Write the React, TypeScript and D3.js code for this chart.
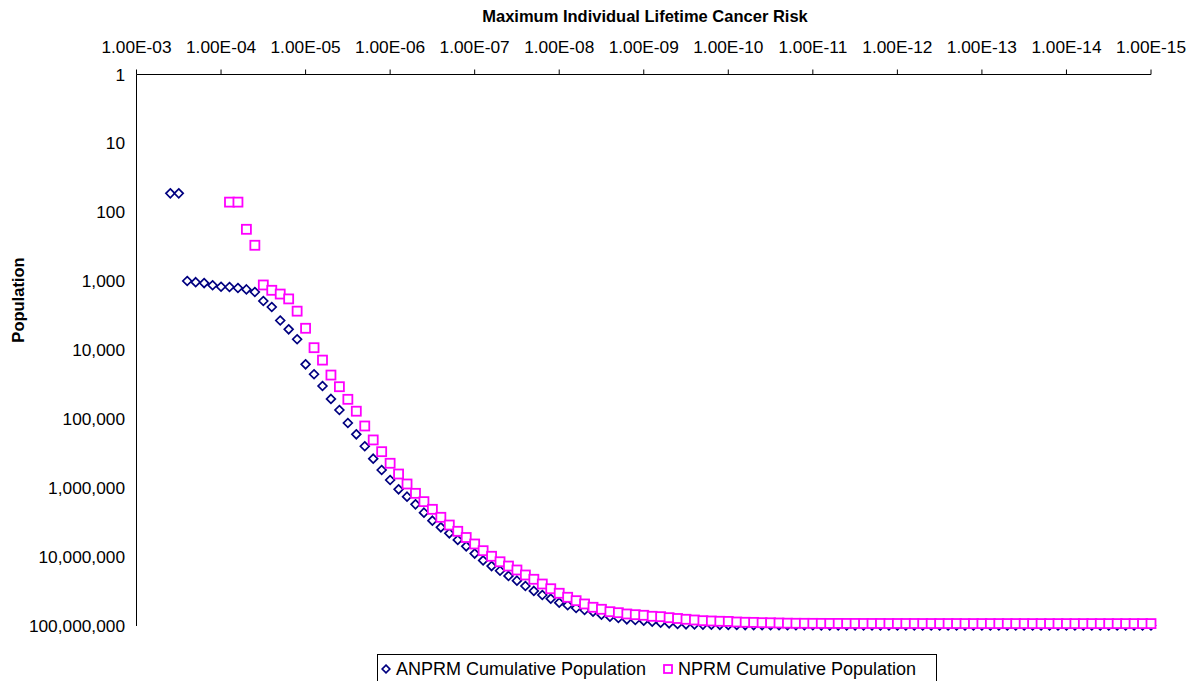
import React from "react";
import * as d3 from "d3";

// Risk levels (log10 of maximum individual lifetime cancer risk), 0.1-decade bins
const riskExp: number[] = [
  -3.4, -3.5, -3.6, -3.7, -3.8, -3.9,
  -4.0, -4.1, -4.2, -4.3, -4.4, -4.5, -4.6, -4.7, -4.8, -4.9,
  -5.0, -5.1, -5.2, -5.3, -5.4, -5.5, -5.6, -5.7, -5.8, -5.9,
  -6.0, -6.1, -6.2, -6.3, -6.4, -6.5, -6.6, -6.7, -6.8, -6.9,
  -7.0, -7.1, -7.2, -7.3, -7.4, -7.5, -7.6, -7.7, -7.8, -7.9,
  -8.0, -8.1, -8.2, -8.3, -8.4, -8.5, -8.6, -8.7, -8.8, -8.9,
  -9.0, -9.1, -9.2, -9.3, -9.4, -9.5, -9.6, -9.7, -9.8, -9.9,
  -10.0, -10.1, -10.2, -10.3, -10.4, -10.5, -10.6, -10.7, -10.8, -10.9,
  -11.0, -11.1, -11.2, -11.3, -11.4, -11.5, -11.6, -11.7, -11.8, -11.9,
  -12.0, -12.1, -12.2, -12.3, -12.4, -12.5, -12.6, -12.7, -12.8, -12.9,
  -13.0, -13.1, -13.2, -13.3, -13.4, -13.5, -13.6, -13.7, -13.8, -13.9,
  -14.0, -14.1, -14.2, -14.3, -14.4, -14.5, -14.6, -14.7, -14.8, -14.9,
  -15.0,
];

// ANPRM cumulative population at each risk level
const anprmPop: number[] = [
  53, 53, 990, 1030, 1060, 1140,
  1200, 1210, 1250, 1310, 1430, 1930, 2360, 3700, 4970, 6930,
  16000, 22300, 33000, 50900, 73600, 113500, 165600, 247000, 374000, 546000,
  762000, 1040000, 1330000, 1720000, 2270000, 2970000, 3700000, 4520000, 5650000, 6980000,
  8900000, 11200000, 13500000, 15800000, 18800000, 22000000, 26300000, 31000000, 35500000, 40200000,
  45900000, 50000000, 54800000, 58600000, 62000000, 68500000, 73200000, 76500000, 79900000, 81800000,
  83700000, 86600000, 89500000, 91300000, 93500000, 94400000, 95000000, 95400000, 95800000, 96100000,
  96400000, 96600000, 96800000, 97000000, 97100000, 97200000, 97300000, 97400000, 97500000, 97600000,
  97600000, 97700000, 97700000, 97800000, 97800000, 97800000, 97900000, 97900000, 97900000, 97900000,
  98000000, 98000000, 98000000, 98000000, 98000000, 98000000, 98000000, 98000000, 98100000, 98100000,
  98100000, 98100000, 98100000, 98100000, 98100000, 98100000, 98100000, 98100000, 98100000, 98100000,
  98200000, 98200000, 98200000, 98200000, 98200000, 98200000, 98200000, 98200000, 98200000, 98200000,
  98200000,
];

// NPRM cumulative population at each risk level (no values above 1E-04)
const nprmPop: (number | null)[] = [
  null, null, null, null, null, null,
  null, 71, 71, 176, 300, 1130, 1350, 1530, 1800, 2710,
  4800, 9180, 13900, 22900, 33800, 51500, 76600, 125500, 200000, 296000,
  436000, 624000, 871000, 1190000, 1570000, 2030000, 2650000, 3430000, 4230000, 5200000,
  6460000, 8080000, 9740000, 11700000, 13500000, 15400000, 18200000, 21000000, 24600000, 28800000,
  33500000, 38300000, 42900000, 47900000, 53500000, 57200000, 62000000, 64100000, 66900000, 68500000,
  69900000, 72300000, 73200000, 75700000, 77800000, 79900000, 81800000, 83700000, 84600000, 85400000,
  85800000, 87500000, 88300000, 88600000, 89500000, 89800000, 90400000, 91000000, 91300000, 91400000,
  91500000, 91600000, 91700000, 91700000, 91800000, 91800000, 91900000, 91900000, 91900000, 92000000,
  92000000, 92000000, 92000000, 92100000, 92100000, 92100000, 92100000, 92100000, 92200000, 92200000,
  92200000, 92200000, 92200000, 92200000, 92200000, 92200000, 92300000, 92300000, 92300000, 92300000,
  92300000, 92300000, 92300000, 92300000, 92300000, 92300000, 92300000, 92300000, 92300000, 92300000,
  92300000,
];

const xTickLabels: string[] = [
  "1.00E-03", "1.00E-04", "1.00E-05", "1.00E-06", "1.00E-07", "1.00E-08", "1.00E-09",
  "1.00E-10", "1.00E-11", "1.00E-12", "1.00E-13", "1.00E-14", "1.00E-15",
];
const xTickValues: number[] = [1e-3, 1e-4, 1e-5, 1e-6, 1e-7, 1e-8, 1e-9, 1e-10, 1e-11, 1e-12, 1e-13, 1e-14, 1e-15];
const yTickValues: number[] = [1, 10, 100, 1000, 10000, 100000, 1000000, 10000000, 100000000];

const seriesNames = ["ANPRM Cumulative Population", "NPRM Cumulative Population"];
const NAVY = "#000080";
const MAGENTA = "#FF00FF";
const FONT = "Arial, 'Liberation Sans', sans-serif";

const W = 1193;
const H = 681;
const plot = { left: 136.5, right: 1151, top: 74.5, bottom: 626 };

const x = d3.scaleLog().domain([1e-3, 1e-15]).range([plot.left, plot.right]);
const y = d3.scaleLog().domain([1, 1e8]).range([plot.top, plot.bottom]);
const fmtComma = d3.format(",");

const Diamond = ({ cx, cy, r = 4.4 }: { cx: number; cy: number; r?: number }) => (
  <path
    d={`M${cx},${cy - r}L${cx + r},${cy}L${cx},${cy + r}L${cx - r},${cy}Z`}
    fill="#fff"
    stroke={NAVY}
    strokeWidth={1.7}
  />
);

const Square = ({ cx, cy, s = 4.5 }: { cx: number; cy: number; s?: number }) => (
  <rect x={cx - s} y={cy - s} width={2 * s} height={2 * s} fill="#fff" stroke={MAGENTA} strokeWidth={1.8} />
);

export default function App() {
  const anprm = riskExp.map((e, i) => ({ risk: Math.pow(10, e), pop: anprmPop[i] }));
  const nprm = riskExp
    .map((e, i) => ({ risk: Math.pow(10, e), pop: nprmPop[i] }))
    .filter((d) => d.pop !== null) as { risk: number; pop: number }[];

  return (
    <svg
      width={W}
      height={H}
      style={{ position: "absolute", left: 0, top: 0, background: "#fff" }}
      fontFamily={FONT}
    >
      <rect x={0} y={0} width={W} height={H} fill="#fff" />
      {/* Title */}
      <text x={645} y={22} textAnchor="middle" fontSize={16.5} fontWeight="bold" fill="#000">
        Maximum Individual Lifetime Cancer Risk
      </text>

      {/* X axis along the top */}
      <line x1={plot.left} x2={plot.right} y1={plot.top} y2={plot.top} stroke="#000" strokeWidth={1} />
      {xTickValues.map((v, i) => (
        <g key={i}>
          <line x1={x(v)} x2={x(v)} y1={plot.top - 5} y2={plot.top} stroke="#000" strokeWidth={1} />
          <text x={x(v)} y={53} textAnchor="middle" fontSize={17.3} fill="#000">
            {xTickLabels[i]}
          </text>
        </g>
      ))}

      {/* Y axis */}
      <line x1={plot.left} x2={plot.left} y1={plot.top} y2={plot.bottom} stroke="#000" strokeWidth={1} />
      {yTickValues.map((v, i) => (
        <text key={i} x={125} y={y(v) + 6} textAnchor="end" fontSize={17.3} fill="#000">
          {fmtComma(v)}
        </text>
      ))}
      <text
        transform={`translate(24,300) rotate(-90)`}
        textAnchor="middle"
        fontSize={16.5}
        fontWeight="bold"
        fill="#000"
      >
        Population
      </text>

      {/* Series */}
      <g>
        {anprm.map((d, i) => (
          <Diamond key={i} cx={x(d.risk)} cy={y(d.pop)} />
        ))}
      </g>
      <g>
        {nprm.map((d, i) => (
          <Square key={i} cx={x(d.risk)} cy={y(d.pop)} />
        ))}
      </g>

      {/* Legend */}
      <rect x={377.5} y={654.5} width={559} height={40} fill="#fff" stroke="#000" strokeWidth={1} />
      <Diamond cx={386} cy={669} r={3.8} />
      <text x={396} y={675} fontSize={18} fill="#000">
        {seriesNames[0]}
      </text>
      <Square cx={668} cy={669} s={4} />
      <text x={678} y={675} fontSize={18} fill="#000">
        {seriesNames[1]}
      </text>
    </svg>
  );
}
